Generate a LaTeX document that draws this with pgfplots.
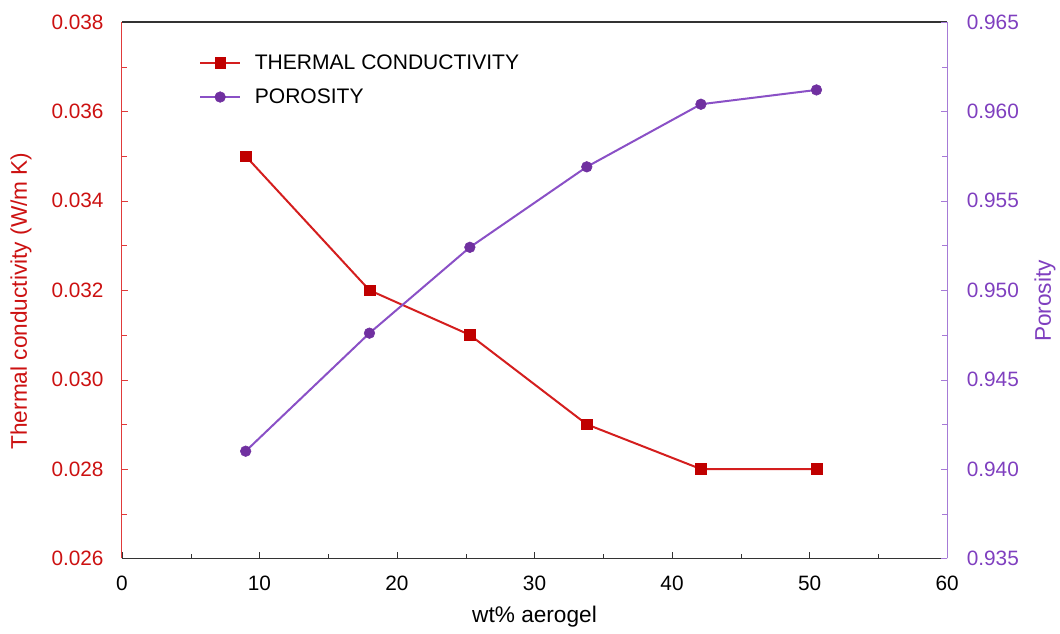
\documentclass[border=0pt]{standalone}
\usepackage{pgfplots}
\pgfplotsset{compat=1.18}
\usepackage{fontspec}
\setmainfont{Liberation Sans}

\definecolor{tcline}{HTML}{D41E1E}
\definecolor{tcmark}{HTML}{C00000}
\definecolor{tctext}{HTML}{CC1111}
\definecolor{poline}{HTML}{8A50C6}
\definecolor{pomark}{HTML}{7030A0}
\definecolor{potext}{HTML}{7F3FBF}
\definecolor{leftspine}{HTML}{E03A3A}
\definecolor{rightspine}{HTML}{A67AD6}

\tikzset{labelfont/.style={font=\fontsize{17}{20}\selectfont}}

\pgfplotsset{
  common/.style={
    scale only axis,
    width=619.5pt, height=402.75pt,
    xmin=0, xmax=60,
    font=\fontsize{15.6}{18}\selectfont,
    /pgf/number format/assume math mode=true,
    scaled y ticks=false,
    tick align=inside,
    major tick length=4.5pt,
    minor tick length=3.5pt,
    minor tick num=1,
    line width=0.9pt,
  },
  threedigits/.style={
    /pgf/number format/fixed,
    /pgf/number format/fixed zerofill,
    /pgf/number format/precision=3,
  },
  legend image code/.code={
    \draw[mark repeat=2,mark phase=2,#1]
      plot coordinates {(0cm,0cm) (0.52cm,0cm) (1.04cm,0cm)};
  },
}

\begin{document}
\begin{tikzpicture}
% thermal conductivity on the left axis
\begin{axis}[
  common,
  name=ax,
  axis x line*=box,
  axis y line*=left,
  xtick pos=bottom,
  ymin=0.026, ymax=0.038,
  ytick={0.026,0.028,...,0.038},
  xtick={0,10,...,60},
  yticklabel style={color=tctext, xshift=-10pt, threedigits},
  ylabel={Thermal conductivity (W/m K)},
  ylabel style={labelfont, color=tctext, at={(axis description cs:-0.1223,0.48)}, anchor=center},
  xlabel={wt\% aerogel},
  xlabel style={labelfont, at={(axis description cs:0.5,-0.108)}, anchor=center},
  x axis line style={color=black!80},
  y axis line style={color=leftspine},
  ytick style={color=leftspine},
  xtick style={color=black!80},
  xticklabel style={yshift=-9.5pt},
]
\addplot[color=tcline, line width=1.5pt, mark=square*,
  mark size=4pt, mark options={color=tcmark, fill=tcmark, line width=0.4pt}]
  coordinates {(9.0,0.035) (18.0,0.032) (25.3,0.031) (33.8,0.029) (42.1,0.028) (50.5,0.028)};
\end{axis}

% porosity on the right axis
\begin{axis}[
  common,
  axis x line=none,
  axis y line*=right,
  ymin=0.935, ymax=0.965,
  ytick={0.935,0.940,...,0.9651},
  yticklabel style={color=potext, xshift=11pt, threedigits},
  ylabel={Porosity},
  ylabel style={labelfont, color=potext, at={(axis description cs:1.1186,0.48)}, anchor=center},
  y axis line style={color=rightspine},
  ytick style={color=rightspine},
  legend style={at={(0.094,0.944)}, anchor=north west, draw=none, fill=none,
    inner sep=0pt, outer sep=0pt,
    font=\fontsize{15.8}{18}\selectfont, row sep=9pt,
    nodes={inner sep=2pt},
    /tikz/every odd column/.append style={column sep=8.5pt}},
  legend cell align=left,
]
\addlegendimage{color=tcline, line width=1.5pt, mark=square*,
  mark size=4pt, mark options={color=tcmark, fill=tcmark, line width=0.4pt}}
\addlegendentry{THERMAL CONDUCTIVITY}
\addplot[color=poline, line width=1.5pt, mark=*,
  mark size=4pt, mark options={color=pomark, fill=pomark, line width=0.4pt}]
  coordinates {(9.0,0.9410) (18.0,0.9476) (25.3,0.9524) (33.8,0.9569) (42.1,0.9604) (50.5,0.9612)};
\addlegendentry{POROSITY}
\end{axis}
% page margins around the plot area
\path ([shift={(-91.5pt,-56.25pt)}]ax.south west) rectangle ([shift={(84pt,16.5pt)}]ax.north east);
\end{tikzpicture}
\end{document}
